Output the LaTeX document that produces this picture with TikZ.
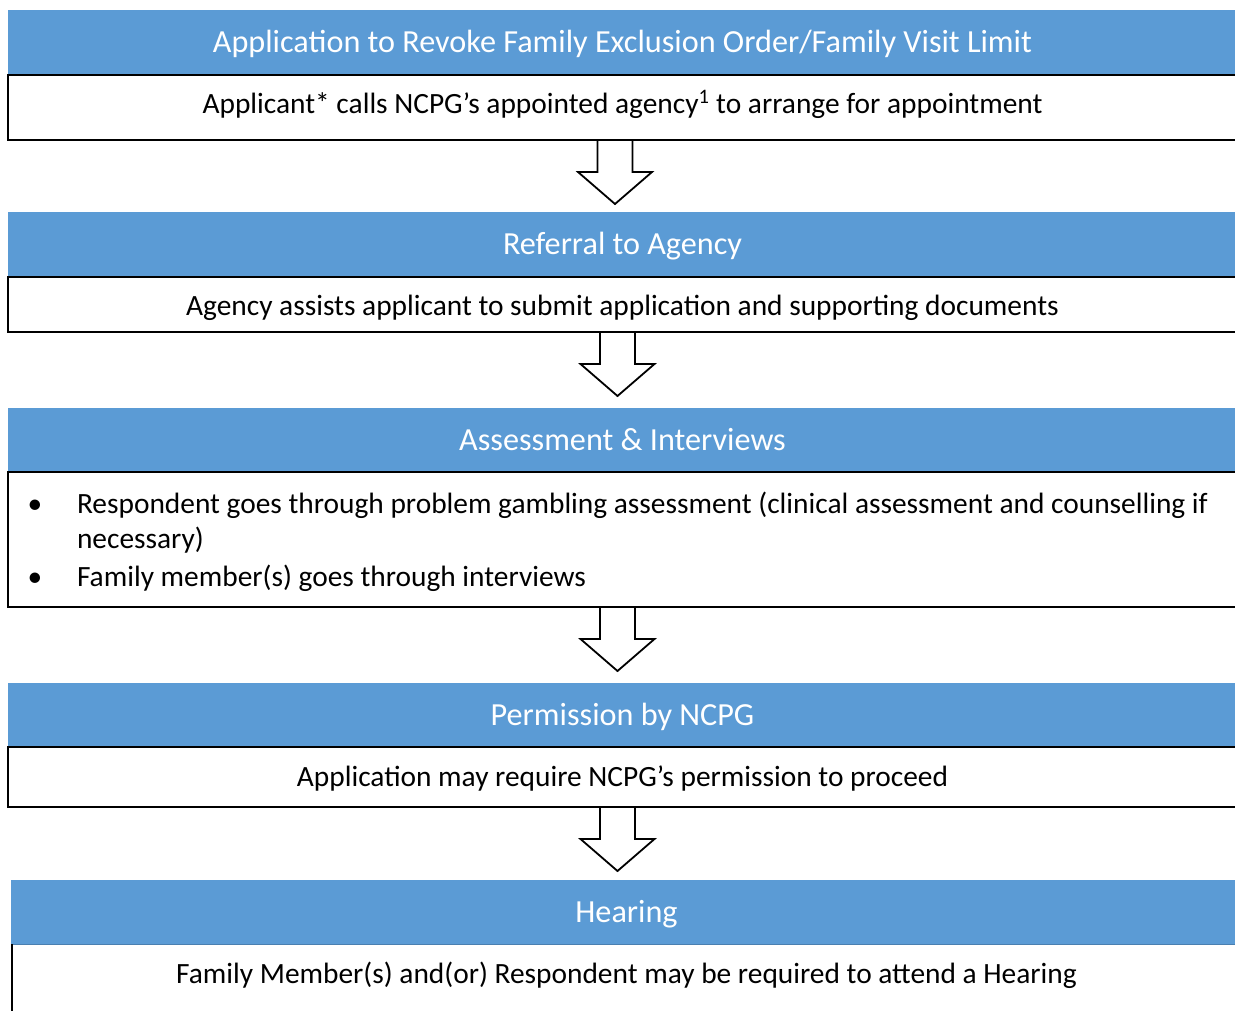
\documentclass[tikz,border=0pt]{standalone}
\usepackage{fontspec}
\setmainfont{Carlito}
\usetikzlibrary{calc}
\definecolor{hdrblue}{HTML}{5B9BD5}
\definecolor{hdrline}{HTML}{4A7FB0}
\begin{document}
\begin{tikzpicture}[x=1pt,y=-1pt,
  hdr/.style={fill=hdrblue, text=white, font=\fontsize{32.2}{38}\selectfont,
    text height=24.5pt, text depth=5.5pt,
    minimum height=65pt, inner sep=0pt, outer sep=0pt, anchor=north west},
  body/.style={draw=black, line width=1.4pt, fill=white, font=\fontsize{29.4}{36}\selectfont,
    inner sep=0pt, outer sep=0pt, anchor=north west},
  bodytext/.style={font=\fontsize{29.4}{36}\selectfont, inner sep=0pt, outer sep=0pt},
  blk/.style={draw=black, line width=1.8pt, fill=white, line join=miter}]
\useasboundingbox (0,0) rectangle (1235,1010);
\clip (0,0) rectangle (1235,1010);

% box 1
\node[hdr, minimum width=1229pt] (h1) at (8,10) {Application to Revoke Family Exclusion Order/Family Visit Limit};
\node[body, minimum width=1229pt, minimum height=65pt, text height=19.5pt, text depth=8.5pt] (b1) at (8,75)
  {Applicant* calls NCPG’s appointed agency\textsuperscript{1} to arrange for appointment};

% box 2
\node[hdr, minimum width=1229pt] (h2) at (8,212) {Referral to Agency};
\node[body, minimum width=1229pt, minimum height=55pt, text height=24.5pt, text depth=3.5pt] (b2) at (8,277)
  {Agency assists applicant to submit application and supporting documents};

% box 3
\node[hdr, minimum width=1229pt] (h3) at (8,408) {Assessment \& Interviews};
\node[body, minimum width=1229pt, minimum height=135pt] (b3) at (8,472) {};
\node[bodytext, anchor=base] (bul1) at (35,513) {•};
\node[bodytext, anchor=base west] (t31) at (77,513) {Respondent goes through problem gambling assessment (clinical assessment and counselling if};
\node[bodytext, anchor=base west] (t32) at (77,548) {necessary)};
\node[bodytext, anchor=base] (bul2) at (35,586) {•};
\node[bodytext, anchor=base west] (t33) at (77,586) {Family member(s) goes through interviews};

% box 4
\node[hdr, minimum width=1229pt] (h4) at (8,683) {Permission by NCPG};
\node[body, minimum width=1229pt, minimum height=60pt, text height=23pt, text depth=5pt] (b4) at (8,747)
  {Application may require NCPG’s permission to proceed};

% box 5
\node[hdr, minimum width=1231pt, minimum height=64pt, text height=25pt, text depth=5pt] (h5) at (11,880) {Hearing};
\node[bodytext, anchor=north west, minimum width=1231pt, minimum height=62pt, text height=22pt, text depth=6pt] (b5) at (11,944)
  {Family Member(s) and(or) Respondent may be required to attend a Hearing};
\draw[hdrline, line width=0.8pt] (h5.south west) -- (h5.south east);
\draw[black, line width=1.4pt] ([xshift=1pt]b5.north west) -- ([xshift=1pt,yshift=-10pt]b5.south west);

% block arrows
\draw[blk] ([xshift=-25]b1.south) -- ++(0,32) -- ++(-19.5,0) -- ++(37,32) -- ++(37,-32) -- ++(-19.5,0) -- ++(0,-32) -- cycle;
\draw[blk] ([xshift=-22.5]b2.south) -- ++(0,32) -- ++(-19.5,0) -- ++(37,32) -- ++(37,-32) -- ++(-19.5,0) -- ++(0,-32) -- cycle;
\draw[blk] ([xshift=-22.5]b3.south) -- ++(0,32) -- ++(-19.5,0) -- ++(37,32) -- ++(37,-32) -- ++(-19.5,0) -- ++(0,-32) -- cycle;
\draw[blk] ([xshift=-22.5]b4.south) -- ++(0,32) -- ++(-19.5,0) -- ++(37,32) -- ++(37,-32) -- ++(-19.5,0) -- ++(0,-32) -- cycle;
\end{tikzpicture}
\end{document}
